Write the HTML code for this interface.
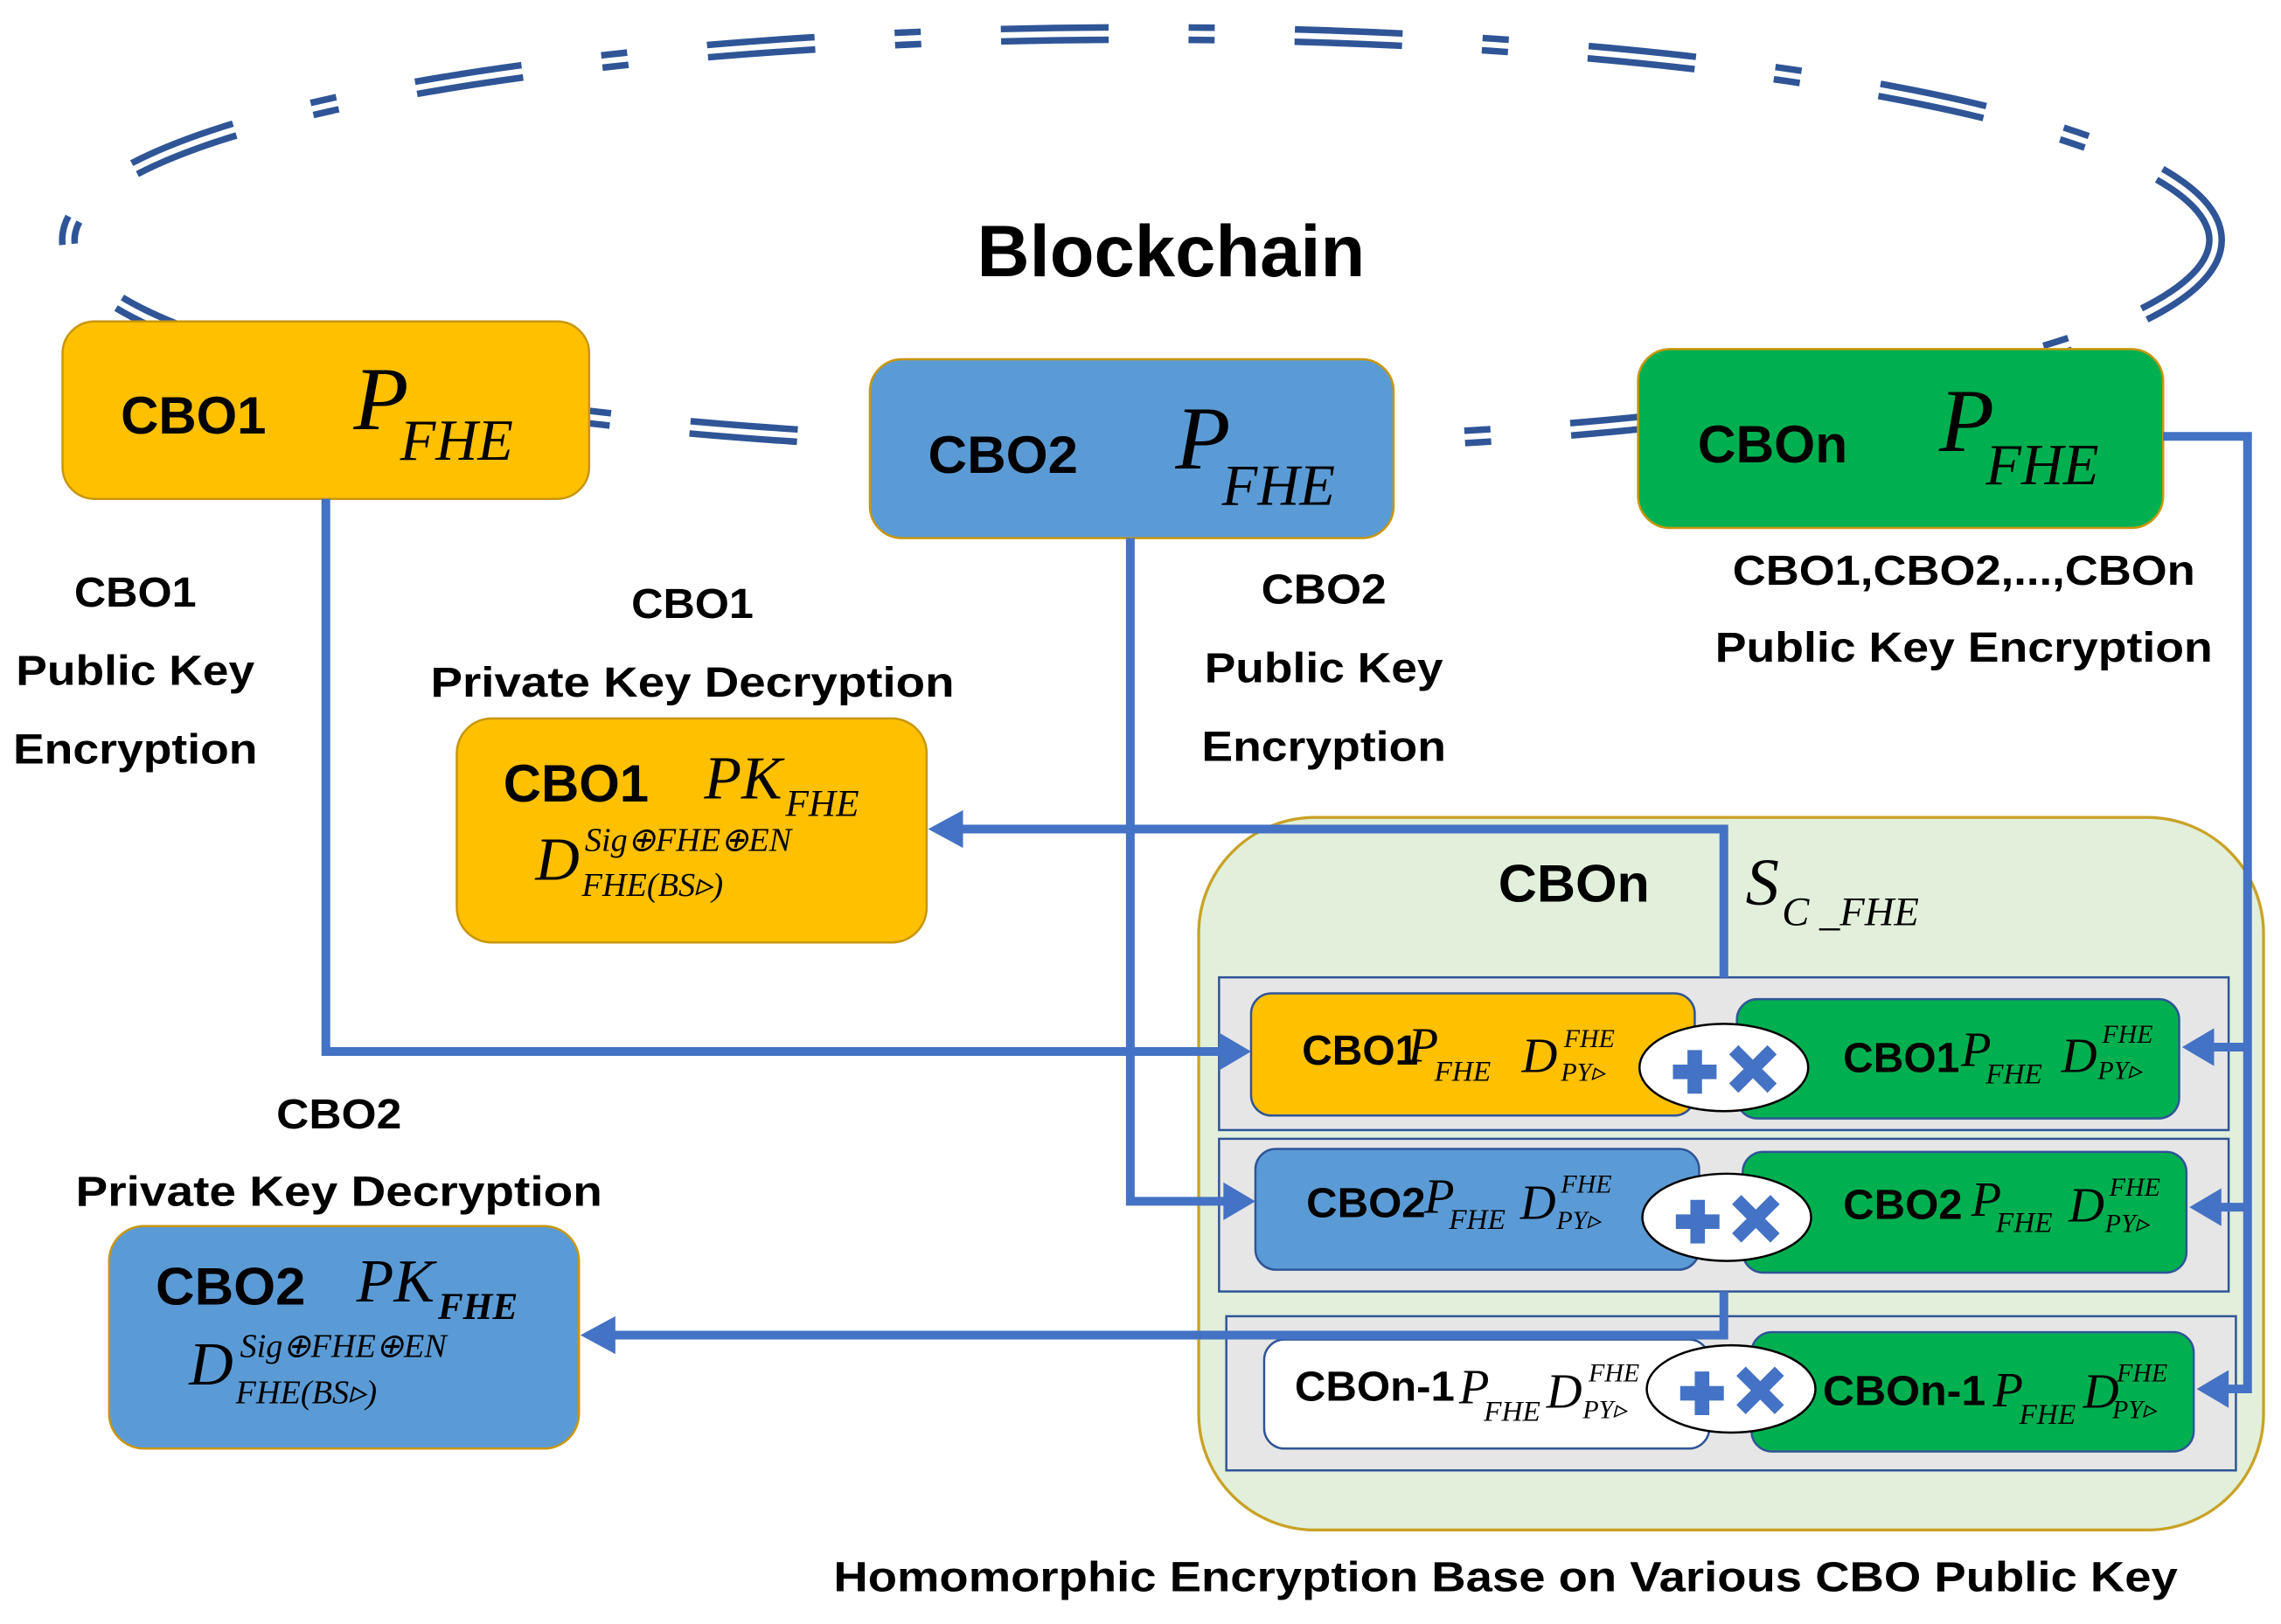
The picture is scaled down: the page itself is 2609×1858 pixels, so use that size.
<!DOCTYPE html>
<html><head><meta charset="utf-8"><style>
html,body{margin:0;padding:0;background:#fff;}
svg{display:block;}
.b{font-family:"Liberation Sans",sans-serif;font-weight:bold;fill:#000;}
.m{font-family:"Liberation Serif",serif;font-style:italic;fill:#000;}
</style></head><body>
<svg width="2609" height="1858" viewBox="0 0 1568 1116.6" xmlns="http://www.w3.org/2000/svg">
<rect x="0" y="0" width="1568" height="1117" fill="#fff"/>
<!-- dashed double ellipse -->
<ellipse cx="785" cy="165" rx="738" ry="142" fill="none" stroke="#2F5597" stroke-width="13" stroke-dasharray="74 55 18 55"/>
<ellipse cx="785" cy="165" rx="738" ry="142" fill="none" stroke="#fff" stroke-width="4"/>
<text x="805" y="190" class="b" font-size="50" text-anchor="middle">Blockchain</text>

<!-- top boxes -->
<rect x="43" y="221" width="362" height="122" rx="22" fill="#FFC000" stroke="#C9960C" stroke-width="1.5"/>
<text x="83" y="298" class="b" font-size="36" textLength="100" lengthAdjust="spacingAndGlyphs">CBO1</text>
<text x="243" y="295" class="m" font-size="62">P</text>
<text x="275" y="316" class="m" font-size="40">FHE</text>

<rect x="598" y="247" width="360" height="123" rx="22" fill="#5B9BD5" stroke="#C9960C" stroke-width="1.5"/>
<text x="638" y="325" class="b" font-size="36" textLength="103" lengthAdjust="spacingAndGlyphs">CBO2</text>
<text x="808" y="322" class="m" font-size="62">P</text>
<text x="840" y="347" class="m" font-size="40">FHE</text>

<rect x="1126" y="240" width="361" height="123" rx="22" fill="#00B050" stroke="#C9960C" stroke-width="1.5"/>
<text x="1167" y="318" class="b" font-size="36" textLength="103" lengthAdjust="spacingAndGlyphs">CBOn</text>
<text x="1333" y="310" class="m" font-size="62">P</text>
<text x="1365" y="333" class="m" font-size="40">FHE</text>

<!-- labels -->
<g class="b" font-size="29" text-anchor="middle">
<text x="93" y="417" textLength="84" lengthAdjust="spacingAndGlyphs">CBO1</text>
<text x="93" y="471" textLength="164" lengthAdjust="spacingAndGlyphs">Public Key</text>
<text x="93" y="525" textLength="168" lengthAdjust="spacingAndGlyphs">Encryption</text>
<text x="476" y="425" textLength="84" lengthAdjust="spacingAndGlyphs">CBO1</text>
<text x="476" y="479" textLength="360" lengthAdjust="spacingAndGlyphs">Private Key Decryption</text>
<text x="910" y="415" textLength="86" lengthAdjust="spacingAndGlyphs">CBO2</text>
<text x="910" y="469" textLength="164" lengthAdjust="spacingAndGlyphs">Public Key</text>
<text x="910" y="523" textLength="168" lengthAdjust="spacingAndGlyphs">Encryption</text>
<text x="1350" y="402" textLength="318" lengthAdjust="spacingAndGlyphs">CBO1,CBO2,...,CBOn</text>
<text x="1350" y="455" textLength="342" lengthAdjust="spacingAndGlyphs">Public Key Encryption</text>
<text x="233" y="776" textLength="86" lengthAdjust="spacingAndGlyphs">CBO2</text>
<text x="233" y="829" textLength="362" lengthAdjust="spacingAndGlyphs">Private Key Decryption</text>
<text x="1035" y="1094" textLength="924" lengthAdjust="spacingAndGlyphs">Homomorphic Encryption Base on Various CBO Public Key</text>
</g>

<!-- private boxes -->
<rect x="314" y="494" width="323" height="154" rx="24" fill="#FFC000" stroke="#C9960C" stroke-width="1.5"/>
<text x="346" y="551" class="b" font-size="36" textLength="100" lengthAdjust="spacingAndGlyphs">CBO1</text>
<text x="484" y="549" class="m" font-size="42">PK</text>
<text x="540" y="561" class="m" font-size="26">FHE</text>
<text x="368" y="605" class="m" font-size="42">D</text>
<text x="402" y="585" class="m" font-size="23">Sig⊕FHE⊕EN</text>
<text x="400" y="616" class="m" font-size="23">FHE(BS▹)</text>

<rect x="75" y="843" width="323" height="153" rx="24" fill="#5B9BD5" stroke="#C9960C" stroke-width="1.5"/>
<text x="107" y="897" class="b" font-size="36" textLength="103" lengthAdjust="spacingAndGlyphs">CBO2</text>
<text x="245" y="895" class="m" font-size="42">PK</text>
<text x="301" y="907" class="m" font-size="26" font-weight="bold">FHE</text>
<text x="130" y="952" class="m" font-size="42">D</text>
<text x="165" y="933" class="m" font-size="23">Sig⊕FHE⊕EN</text>
<text x="162" y="965" class="m" font-size="23">FHE(BS▹)</text>

<!-- container -->
<rect x="824" y="562" width="732" height="490" rx="80" fill="#E2EFDA" stroke="#C9A227" stroke-width="2"/>
<text x="1030" y="620" class="b" font-size="36" textLength="104" lengthAdjust="spacingAndGlyphs">CBOn</text>
<text x="1200" y="622" class="m" font-size="46">S</text>
<text x="1225" y="636" class="m" font-size="28">C _FHE</text>

<g fill="#E7E6E6" stroke="#2F5597" stroke-width="1.5">
<rect x="838" y="672" width="694" height="105"/>
<rect x="838" y="783" width="694" height="105"/>
<rect x="843" y="905" width="694" height="106"/>
</g>
<g stroke="#2F5597" stroke-width="1.5">
<rect x="860" y="683" width="305" height="84" rx="14" fill="#FFC000"/>
<rect x="1194" y="687" width="304" height="82" rx="14" fill="#00B050"/>
<rect x="863" y="790" width="305" height="83" rx="14" fill="#5B9BD5"/>
<rect x="1198" y="792" width="305" height="83" rx="14" fill="#00B050"/>
<rect x="869" y="921" width="306" height="75" rx="14" fill="#fff"/>
<rect x="1204" y="916" width="304" height="82" rx="14" fill="#00B050"/>
</g>
<!-- row texts -->
<g>
<text x="895" y="732" class="b" font-size="29" textLength="80" lengthAdjust="spacingAndGlyphs">CBO1</text>
<text x="968" y="730" class="m" font-size="34">P</text>
<text x="986" y="743" class="m" font-size="20">FHE</text>
<text x="1046" y="737" class="m" font-size="34">D</text>
<text x="1075" y="720" class="m" font-size="18">FHE</text>
<text x="1073" y="743" class="m" font-size="18">PY▹</text>

<text x="1267" y="737" class="b" font-size="29" textLength="80" lengthAdjust="spacingAndGlyphs">CBO1</text>
<text x="1348" y="733" class="m" font-size="34">P</text>
<text x="1365" y="745" class="m" font-size="20">FHE</text>
<text x="1417" y="737" class="m" font-size="34">D</text>
<text x="1445" y="717" class="m" font-size="18">FHE</text>
<text x="1442" y="742" class="m" font-size="18">PY▹</text>

<text x="898" y="837" class="b" font-size="29" textLength="82" lengthAdjust="spacingAndGlyphs">CBO2</text>
<text x="979" y="834" class="m" font-size="34">P</text>
<text x="996" y="845" class="m" font-size="20">FHE</text>
<text x="1045" y="838" class="m" font-size="34">D</text>
<text x="1073" y="820" class="m" font-size="18">FHE</text>
<text x="1070" y="845" class="m" font-size="18">PY▹</text>

<text x="1267" y="838" class="b" font-size="29" textLength="82" lengthAdjust="spacingAndGlyphs">CBO2</text>
<text x="1355" y="836" class="m" font-size="34">P</text>
<text x="1372" y="847" class="m" font-size="20">FHE</text>
<text x="1422" y="840" class="m" font-size="34">D</text>
<text x="1450" y="822" class="m" font-size="18">FHE</text>
<text x="1447" y="847" class="m" font-size="18">PY▹</text>

<text x="890" y="963" class="b" font-size="29" textLength="110" lengthAdjust="spacingAndGlyphs">CBOn-1</text>
<text x="1003" y="965" class="m" font-size="34">P</text>
<text x="1020" y="977" class="m" font-size="20">FHE</text>
<text x="1063" y="968" class="m" font-size="34">D</text>
<text x="1092" y="950" class="m" font-size="18">FHE</text>
<text x="1088" y="975" class="m" font-size="18">PY▹</text>

<text x="1253" y="966" class="b" font-size="29" textLength="112" lengthAdjust="spacingAndGlyphs">CBOn-1</text>
<text x="1370" y="967" class="m" font-size="34">P</text>
<text x="1388" y="979" class="m" font-size="20">FHE</text>
<text x="1432" y="968" class="m" font-size="34">D</text>
<text x="1455" y="950" class="m" font-size="18">FHE</text>
<text x="1452" y="975" class="m" font-size="18">PY▹</text>
</g>

<!-- ellipses with + x -->
<g>
<ellipse cx="1185" cy="734" rx="58" ry="30" fill="#fff" stroke="#000" stroke-width="1.5"/>
<ellipse cx="1187" cy="837" rx="58" ry="30" fill="#fff" stroke="#000" stroke-width="1.5"/>
<ellipse cx="1190" cy="955" rx="58" ry="30" fill="#fff" stroke="#000" stroke-width="1.5"/>
<g fill="#4472C4">
<path d="M1160 722h10v10h10v10h-10v10h-10v-10h-10v-10h10z"/>
<path d="M1162 825h10v10h10v10h-10v10h-10v-10h-10v-10h10z"/>
<path d="M1165 943h10v10h10v10h-10v10h-10v-10h-10v-10h10z"/>
</g>
<g stroke="#4472C4" stroke-width="9" stroke-linecap="square">
<path d="M1195 725l20 20M1215 725l-20 20"/>
<path d="M1197 828l20 20M1217 828l-20 20"/>
<path d="M1200 946l20 20M1220 946l-20 20"/>
</g>
</g>

<!-- connectors -->
<g fill="none" stroke="#4472C4" stroke-width="6">
<path d="M224 343V723H842"/>
<path d="M777 370V826H845"/>
<path d="M1487 300H1545V955H1528"/>
<path d="M1545 720H1518"/>
<path d="M1545 830H1523"/>
<path d="M1185 672V570H660"/>
<path d="M1185 888V918H420"/>
</g>
<g fill="#4472C4">
<path d="M860 723l-22-13v26z"/>
<path d="M863 826l-22-13v26z"/>
<path d="M1500 720l22-13v26z"/>
<path d="M1505 830l22-13v26z"/>
<path d="M1510 955l22-13v26z"/>
<path d="M638 570l24-13v26z"/>
<path d="M399 918l24-13v26z"/>
</g>
</svg>
</body></html>
